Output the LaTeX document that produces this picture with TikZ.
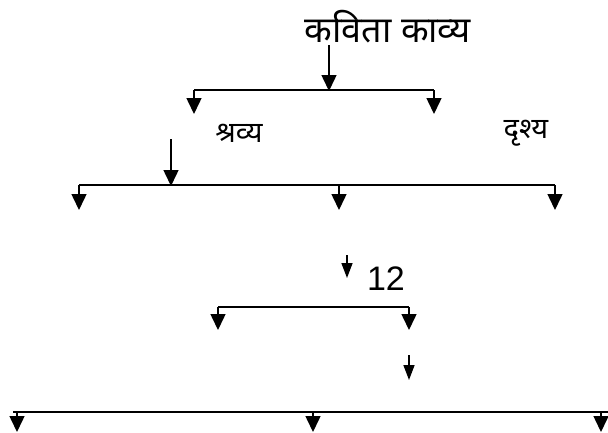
\documentclass[tikz,border=0pt]{standalone}
\usepackage{fontspec}
\newfontfamily\devfont[Script=Devanagari]{Noto Sans}
\setmainfont{Liberation Sans}
\usetikzlibrary{arrows.meta}
\tikzset{
  arr/.style={line width=1.5pt,-{Triangle[width=15pt,length=16pt]}},
  sarr/.style={line width=1.5pt,-{Triangle[width=11pt,length=15pt]}},
  bar/.style={line width=1.5pt},
  dev/.style={inner sep=0pt,font=\devfont},
}
\begin{document}
\begin{tikzpicture}[x=1pt,y=-1pt]
\useasboundingbox (0,0) rectangle (608,432);
% title
\node[dev,font=\devfont\fontsize{36}{40}\selectfont] (t) at (388,27) {कविता काव्य};
\coordinate (a1s) at (329,45);
\coordinate (a1e) at (329,91);
\coordinate (h1l) at (194,90);
\coordinate (h1r) at (434,90);
\coordinate (h1lt) at (194,114);
\coordinate (h1rt) at (434,114);
\draw[arr] (a1s) -- (a1e);
\draw[bar] (h1l) -- (h1r);
\draw[arr] (h1l) -- (h1lt);
\draw[arr] (h1r) -- (h1rt);
% second level labels
\node[dev,font=\devfont\fontsize{29}{32}\selectfont] (s) at (239,133) {श्रव्य};
\node[dev,font=\devfont\fontsize{29}{32}\selectfont] (d) at (526,133) {दृश्य};
\coordinate (a2s) at (171,139);
\coordinate (a2e) at (171,186);
\coordinate (h2l) at (79,185);
\coordinate (h2r) at (555,185);
\coordinate (h2m) at (339,185);
\coordinate (h2lt) at (79,210);
\coordinate (h2mt) at (339,210);
\coordinate (h2rt) at (555,210);
\draw[arr] (a2s) -- (a2e);
\draw[bar] (h2l) -- (h2r);
\draw[arr] (h2l) -- (h2lt);
\draw[arr] (h2m) -- (h2mt);
\draw[arr] (h2r) -- (h2rt);
% 12
\node[inner sep=0pt,font=\fontsize{34}{40}\selectfont] (n12) at (386,279) {12};
\coordinate (a3s) at (347,255);
\coordinate (a3e) at (347,278);
\draw[sarr] (a3s) -- (a3e);
\coordinate (h3l) at (218,307);
\coordinate (h3r) at (409,307);
\coordinate (h3lt) at (218,330);
\coordinate (h3rt) at (409,330);
\draw[bar] (h3l) -- (h3r);
\draw[arr] (h3l) -- (h3lt);
\draw[arr] (h3r) -- (h3rt);
\coordinate (a4s) at (409,355);
\coordinate (a4e) at (409,380);
\draw[sarr] (a4s) -- (a4e);
% bottom
\coordinate (h4l) at (13,412);
\coordinate (h4r) at (608,412);
\coordinate (b1) at (17,412);
\coordinate (b2) at (313,412);
\coordinate (b3) at (601,412);
\coordinate (b1t) at (17,432);
\coordinate (b2t) at (313,432);
\coordinate (b3t) at (601,432);
\draw[bar] (h4l) -- (h4r);
\draw[arr] (b1) -- (b1t);
\draw[arr] (b2) -- (b2t);
\draw[arr] (b3) -- (b3t);
\end{tikzpicture}
\end{document}
